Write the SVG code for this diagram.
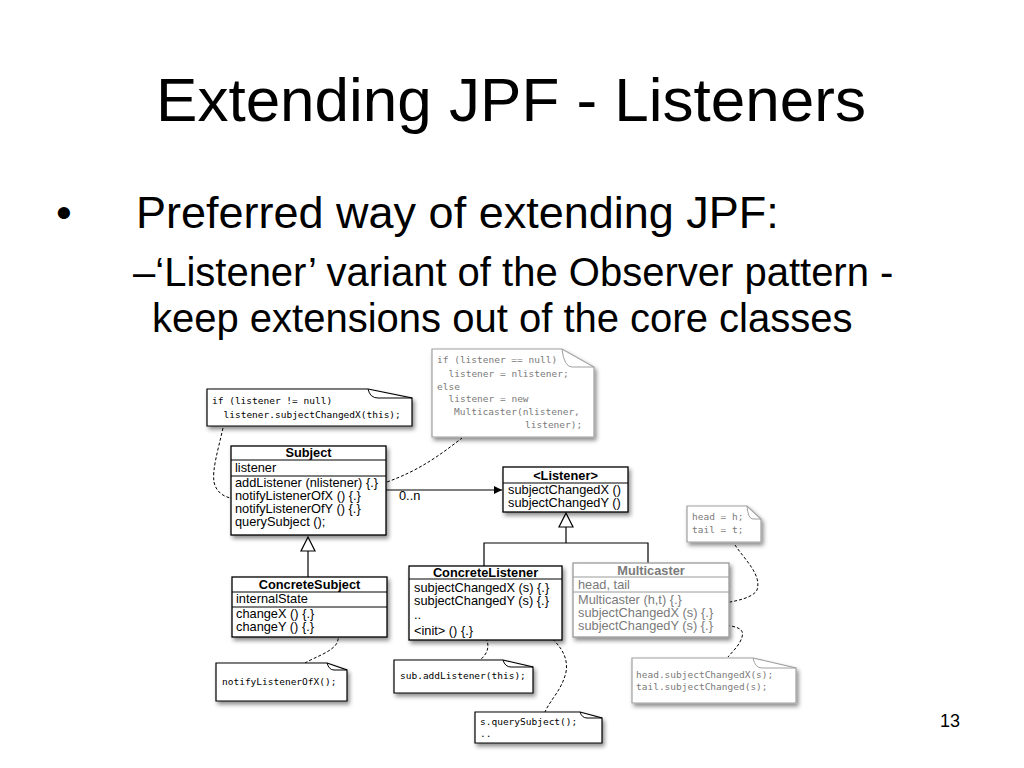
<svg xmlns="http://www.w3.org/2000/svg" width="1024" height="768" viewBox="0 0 1024 768">
<defs>
<style>
.title{font-family:"Liberation Sans",Arial,sans-serif;font-size:62px;fill:#000}
.b1{font-family:"Liberation Sans",Arial,sans-serif;font-size:45px;fill:#000}
.b2{font-family:"Liberation Sans",Arial,sans-serif;font-size:40px;fill:#000}
.pg{font-family:"Liberation Sans",Arial,sans-serif;font-size:18px;fill:#000}
.u{font-family:"Liberation Sans",Arial,sans-serif;font-size:12.8px;fill:#000}
.uh{font-family:"Liberation Sans",Arial,sans-serif;font-size:12.8px;font-weight:bold;fill:#000;text-anchor:middle}
.g{fill:#7a7a7a}
.box{fill:#fff;stroke:#000;stroke-width:1.3}
.gbox{fill:#fff;stroke:#9a9a9a;stroke-width:1.3}
.sep{stroke:#000;stroke-width:1}
.gsep{stroke:#9a9a9a;stroke-width:1}
.code{font-family:"DejaVu Sans Mono","Liberation Mono",monospace;font-size:9.5px;fill:#000}
.gcode{font-family:"DejaVu Sans Mono","Liberation Mono",monospace;font-size:9.5px;fill:#7a7a7a}
.note{fill:#fff;stroke:#000;stroke-width:1.2}
.gnote{fill:#fff;stroke:#a0a0a0;stroke-width:1.2}
.fold{fill:none;stroke:#000;stroke-width:1}
.gfold{fill:none;stroke:#a0a0a0;stroke-width:1}
.dash{fill:none;stroke:#000;stroke-width:1;stroke-dasharray:3,2}
.line{fill:none;stroke:#000;stroke-width:1.2}
.tri{fill:#fff;stroke:#000;stroke-width:1.2}
</style>
<filter id="sh" x="-10%" y="-10%" width="130%" height="140%">
<feDropShadow dx="2" dy="3" stdDeviation="2" flood-color="#000" flood-opacity="0.45"/>
</filter>
<marker id="arr" viewBox="0 0 10 10" refX="10" refY="5" markerWidth="10" markerHeight="8" markerUnits="userSpaceOnUse" orient="auto">
<path d="M0,0 L10,5 L0,10 Z" fill="#000"/>
</marker>
</defs>
<rect width="1024" height="768" fill="#fff"/>

<text class="title" x="511" y="121" text-anchor="middle">Extending JPF - Listeners</text>
<text class="b1" x="56" y="228">•</text>
<text class="b1" x="136" y="228">Preferred way of extending JPF:</text>
<text class="b2" x="133" y="286">–‘Listener’ variant of the Observer pattern -</text>
<text class="b2" x="152" y="332">keep extensions out of the core classes</text>
<text class="pg" x="940" y="727">13</text>

<g id="connectors">
<path class="dash" d="M223,428 C218,450 212,470 214,482 C216,492 224,497 231,498"/>
<path class="dash" d="M387,482 C420,470 440,455 462,438"/>
<path class="dash" d="M323,616 C335,619 342,630 337,643 C332,652 315,657 305,663"/>
<path class="dash" d="M483,634 C490,642 490,652 480,660"/>
<path class="dash" d="M515,615 C550,632 570,650 566,672 C562,690 550,700 545,712"/>
<path class="dash" d="M735,545 C745,560 762,575 757,590 C752,600 725,603 710,605"/>
<path class="dash" d="M722,625 C735,626 745,628 742,637 C740,645 732,652 728,657"/>
<line class="line" x1="386" y1="490" x2="502" y2="490" marker-end="url(#arr)"/>
<text class="u" x="399" y="500">0..n</text>
<line class="line" x1="308" y1="551" x2="308" y2="577"/>
<polygon class="tri" points="308,537 301,551 315,551"/>
<polyline class="line" points="484,566 484,543 648,543 648,563"/>
<line class="line" x1="566" y1="527" x2="566" y2="543"/>
<polygon class="tri" points="566,513 559,527 573,527"/>
</g>

<g id="note-notify">
<path class="note" filter="url(#sh)" d="M207,389 H368 L412,398 V426 H207 Z"/>
<path class="fold" d="M368,389 Q370,398 378,398 H412"/>
<text class="code" x="212" y="404">if (listener != null)</text>
<text class="code" x="223.5" y="418">listener.subjectChangedX(this);</text>
</g>

<g id="note-add">
<path class="gnote" filter="url(#sh)" d="M432,349 H562 L594,367 V437 H432 Z"/>
<path class="gfold" d="M562,349 Q564,367 572,367 H594"/>
<text class="gcode" x="437" y="363">if (listener == null)</text>
<text class="gcode" x="448.5" y="377">listener = nlistener;</text>
<text class="gcode" x="437" y="390">else</text>
<text class="gcode" x="448.5" y="402">listener = new</text>
<text class="gcode" x="454" y="415">Multicaster(nlistener,</text>
<text class="gcode" x="525" y="428">listener);</text>
</g>

<g id="subject">
<rect class="box" filter="url(#sh)" x="231" y="446" width="155" height="89"/>
<line class="sep" x1="231" y1="460" x2="386" y2="460"/>
<line class="sep" x1="231" y1="476" x2="386" y2="476"/>
<text class="uh" x="308.5" y="457">Subject</text>
<text class="u" x="235" y="472">listener</text>
<text class="u" x="235" y="487">addListener (nlistener) {.}</text>
<text class="u" x="235" y="500">notifyListenerOfX () {.}</text>
<text class="u" x="235" y="513">notifyListenerOfY () {.}</text>
<text class="u" x="235" y="526">querySubject ();</text>
</g>

<g id="listener">
<rect class="box" filter="url(#sh)" x="503" y="467" width="125" height="45"/>
<line class="sep" x1="503" y1="483" x2="628" y2="483"/>
<text class="uh" x="565.5" y="480">&lt;Listener&gt;</text>
<text class="u" x="508" y="494">subjectChangedX ()</text>
<text class="u" x="508" y="507">subjectChangedY ()</text>
</g>

<g id="concrete-subject">
<rect class="box" filter="url(#sh)" x="232" y="577" width="155" height="60"/>
<line class="sep" x1="232" y1="592" x2="387" y2="592"/>
<line class="sep" x1="232" y1="607" x2="387" y2="607"/>
<text class="uh" x="309.5" y="589">ConcreteSubject</text>
<text class="u" x="236" y="603">internalState</text>
<text class="u" x="236" y="618">changeX () {.}</text>
<text class="u" x="236" y="631">changeY () {.}</text>
</g>

<g id="concrete-listener">
<rect class="box" filter="url(#sh)" x="409" y="566" width="153" height="74"/>
<line class="sep" x1="409" y1="579" x2="562" y2="579"/>
<text class="uh" x="485.5" y="577">ConcreteListener</text>
<text class="u" x="414" y="592">subjectChangedX (s) {.}</text>
<text class="u" x="414" y="605">subjectChangedY (s) {.}</text>
<text class="u" x="414" y="619">..</text>
<text class="u" x="414" y="635">&lt;init&gt; () {.}</text>
</g>

<g id="multicaster">
<rect class="gbox" filter="url(#sh)" x="573" y="563" width="156" height="74"/>
<line class="gsep" x1="573" y1="577" x2="729" y2="577"/>
<line class="gsep" x1="573" y1="592" x2="729" y2="592"/>
<text class="uh g" x="651" y="575">Multicaster</text>
<text class="u g" x="578" y="589">head, tail</text>
<text class="u g" x="578" y="604">Multicaster (h,t) {.}</text>
<text class="u g" x="578" y="617">subjectChangedX (s) {.}</text>
<text class="u g" x="578" y="630">subjectChangedY (s) {.}</text>
</g>

<g id="note-headtail">
<path class="gnote" filter="url(#sh)" d="M687,506 H747 L761,519 V542 H687 Z"/>
<path class="gfold" d="M747,506 Q748,519 753,519 H761"/>
<text class="gcode" x="692" y="520">head = h;</text>
<text class="gcode" x="692" y="533">tail = t;</text>
</g>

<g id="note-multicast">
<path class="gnote" filter="url(#sh)" d="M632,658 H753 L796,668 V703 H632 Z"/>
<path class="gfold" d="M753,658 Q755,668 762,668 H796"/>
<text class="gcode" x="636" y="678">head.subjectChangedX(s);</text>
<text class="gcode" x="636" y="690">tail.subjectChanged(s);</text>
</g>

<g id="note-notifyX">
<path class="note" filter="url(#sh)" d="M216,663 H327 L347,670 V701 H216 Z"/>
<path class="fold" d="M327,663 Q329,670 334,670 H347"/>
<text class="code" x="222" y="685">notifyListenerOfX();</text>
</g>

<g id="note-addlistener">
<path class="note" filter="url(#sh)" d="M394,660 H503 L533,667 V693 H394 Z"/>
<path class="fold" d="M503,660 Q505,667 511,667 H533"/>
<text class="code" x="400" y="679">sub.addListener(this);</text>
</g>

<g id="note-query">
<path class="note" filter="url(#sh)" d="M475,712 H580 L602,718 V743 H475 Z"/>
<path class="fold" d="M580,712 Q582,718 587,718 H602"/>
<text class="code" x="480" y="725">s.querySubject();</text>
<text class="code" x="480" y="737">..</text>
</g>
</svg>
